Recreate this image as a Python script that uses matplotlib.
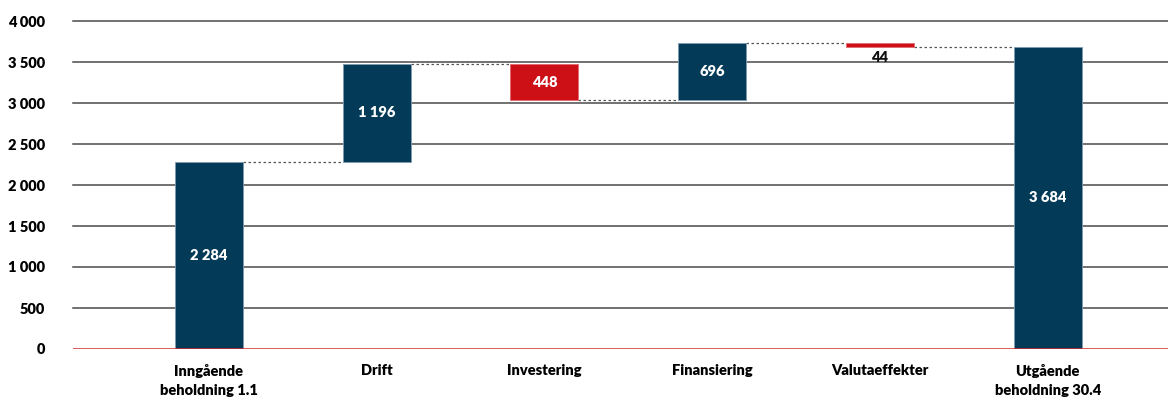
import matplotlib
matplotlib.use("Agg")
import matplotlib.pyplot as plt
from matplotlib.ticker import FuncFormatter

categories = ["Inngående\nbeholdning 1.1", "Drift", "Investering",
              "Finansiering", "Valutaeffekter", "Utgående\nbeholdning 30.4"]
changes = [2284, 1196, -448, 696, -44, 3684]
kinds = ["total", "delta", "delta", "delta", "delta", "total"]
yticks = [0, 500, 1000, 1500, 2000, 2500, 3000, 3500, 4000]

NAVY = "#023a57"
RED = "#cc1016"
EDGE = "#7f9bb0"
WT = "heavy"

plt.rcParams["font.family"] = ["Lato", "DejaVu Sans"]

fig = plt.figure(figsize=(11.68, 4.0), dpi=100)
ax = fig.add_axes([73 / 1168, 1 - 349 / 400, 1 - 73 / 1168, 328 / 400])

bottoms, tops = [], []
level = 0
for v, k in zip(changes, kinds):
    if k == "total":
        b, t = 0, v
        level = v
    else:
        b, t = level, level + v
        level = t
    bottoms.append(min(b, t))
    tops.append(max(b, t))

w = 0.405
for i, (v, k) in enumerate(zip(changes, kinds)):
    col = RED if v < 0 else NAVY
    ecol = "#e06a6e" if v < 0 else EDGE
    ax.bar(i, tops[i] - bottoms[i], bottom=bottoms[i], width=w, color=col,
           edgecolor=ecol, linewidth=0.6, zorder=3)
    lab = f"{abs(v):,}".replace(",", " ")
    if tops[i] - bottoms[i] > 200:
        ax.text(i, (tops[i] + bottoms[i]) / 2, lab, color="white", ha="center",
                va="center", fontsize=10.5, fontweight=WT, zorder=4)
    else:
        ax.text(i, bottoms[i] - 45, lab, color="#111111", ha="center",
                va="top", fontsize=10.5, fontweight=WT, zorder=4)

# connectors between bars at running level
level = 0
ends = []
for v, k in zip(changes, kinds):
    level = v if k == "total" else level + v
    ends.append(level)
for i in range(len(changes) - 1):
    ax.plot([i + w / 2, i + 1 - w / 2], [ends[i], ends[i]], color="#555555",
            lw=0.9, ls=(0, (2, 2)), zorder=2)

for y in yticks[1:]:
    ax.axhline(y, color="#4a4a4a", lw=1.1, zorder=1, clip_on=False)
ax.axhline(0, color="#d42a30", lw=1.8, zorder=5)

ax.set_xlim(-0.81, 5.717)
ax.set_ylim(0, 4000)
ax.set_yticks(yticks)
ax.yaxis.set_major_formatter(FuncFormatter(lambda v, p: f"{int(v):,}".replace(",", " ")))
ax.set_xticks(range(len(categories)))
ax.set_xticklabels(categories, fontsize=10.5, fontweight=WT, linespacing=1.5)
ax.tick_params(axis="both", length=0, labelsize=10.5)
ax.tick_params(axis="y", pad=20)
ax.tick_params(axis="x", pad=11)
for lbl in ax.get_yticklabels():
    lbl.set_fontweight(WT)
for s in ax.spines.values():
    s.set_visible(False)

fig.savefig("out.png", dpi=100, facecolor="white")
